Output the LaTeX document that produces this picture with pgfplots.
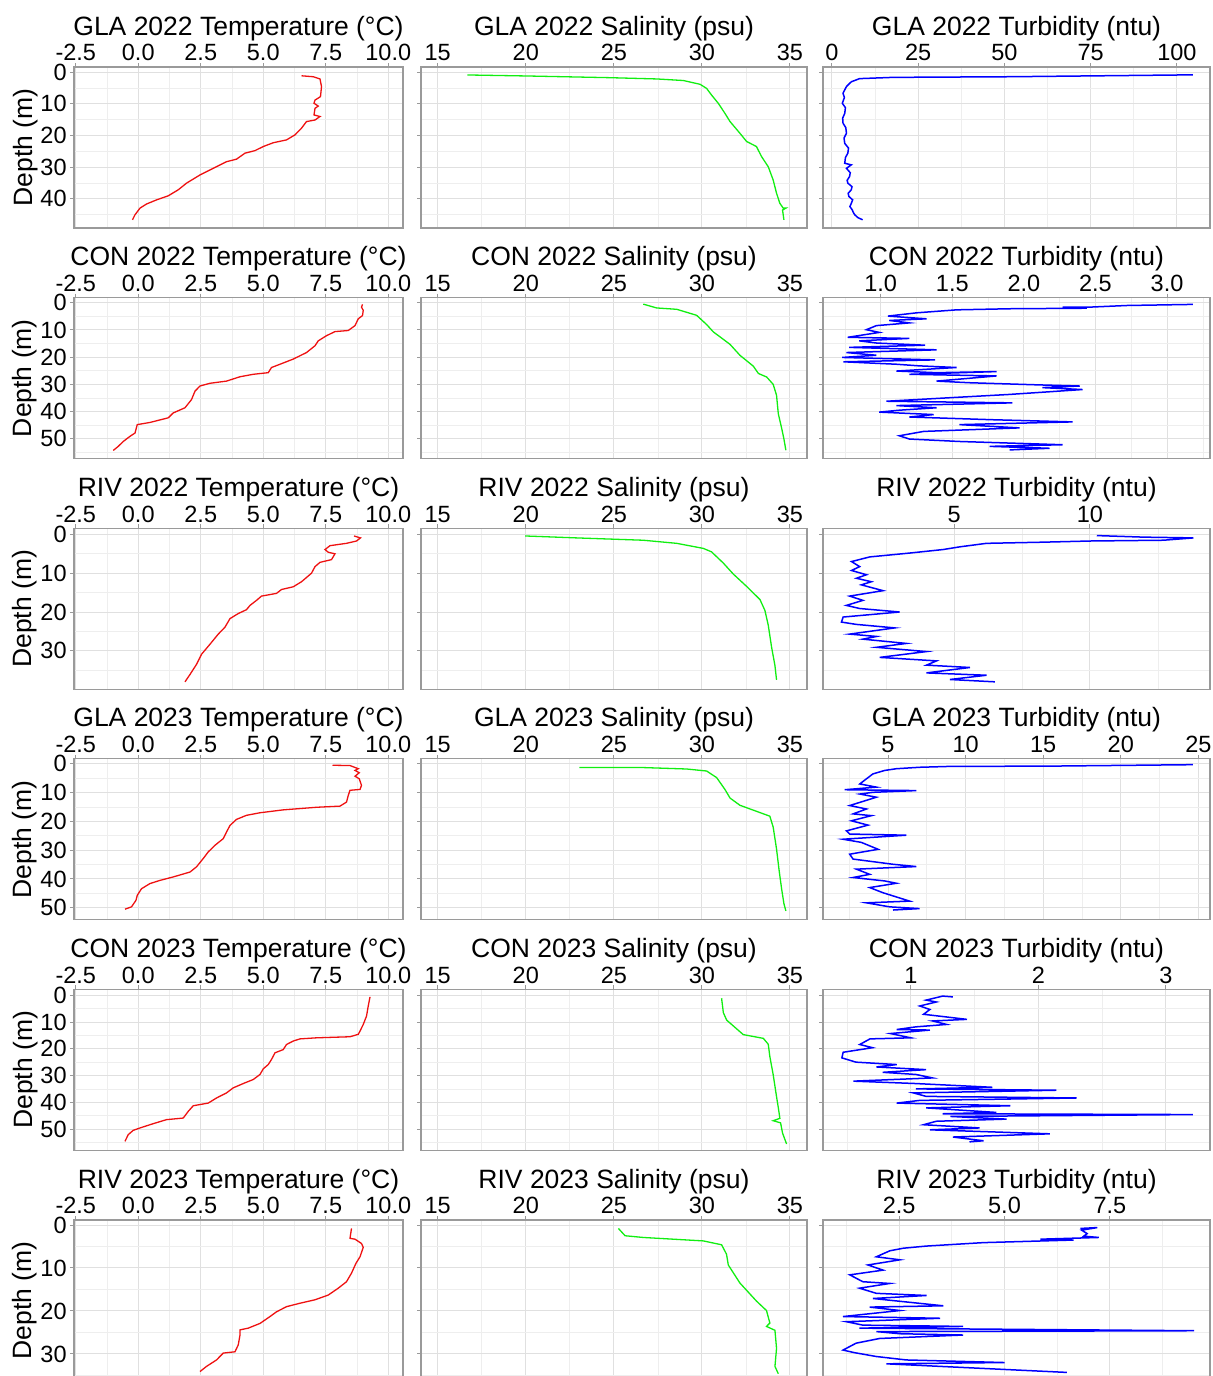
\documentclass[border=0pt]{standalone}
\usepackage{pgfplots}
\pgfplotsset{compat=1.18}
\usepackage{fontspec}
\setmainfont{Liberation Sans}
\definecolor{bordercol}{HTML}{9A9A9A}
\definecolor{gridmaj}{HTML}{E0E0E0}
\definecolor{gridmin}{HTML}{EEEEEE}
\definecolor{tred}{HTML}{EE1111}
\definecolor{sgreen}{HTML}{11EE11}
\definecolor{ublue}{HTML}{0000FF}
\newcommand\tfont{\fontsize{13.25pt}{15pt}\selectfont}
\newcommand\kfont{\fontsize{11.75pt}{13pt}\selectfont}

\pgfplotsset{
  prof/.style={
    scale only axis, height=80.5pt, anchor=north west,
    y dir=reverse, grid=both,
    axis line style={draw=bordercol, line width=0.6pt},
    major grid style={draw=gridmaj, line width=0.5pt},
    minor grid style={draw=gridmin, line width=0.35pt},
    tick style={draw=bordercol, line width=0.5pt},
    tick align=outside, major tick length=2pt, minor tick length=0pt,
    xtick pos=right, xticklabel pos=right, ytick pos=left,
    tick label style={font=\kfont},
    xticklabel style={anchor=base, inner sep=0pt, yshift=1.1pt},
    yticklabel style={anchor=east, inner sep=0pt, xshift=-1.5pt},
    title style={at={(0.5,1)}, anchor=base, yshift=10pt, font=\tfont},
    every axis y label/.style={at={(rel axis cs:0,0.5)}, xshift=-21pt, rotate=90, anchor=base, font=\fontsize{13.25pt}{15pt}\selectfont},
  },
  tcol/.style={prof, width=164.5pt, xmin=-2.57, xmax=10.59,
    xtick={-2.5,0,2.5,5,7.5,10}, xticklabels={-2.5,0.0,2.5,5.0,7.5,10.0},
    minor xtick={-1.25,1.25,3.75,6.25,8.75}, ylabel={Depth (m)}},
  scol/.style={prof, width=193pt, xmin=14.05, xmax=35.97,
    xtick={15,20,25,30,35}, xticklabels={15,20,25,30,35},
    minor xtick={17.5,22.5,27.5,32.5}, yticklabels={}},
  ucol/.style={prof, width=193.5pt, yticklabels={}},
  r1/.style={ymin=-1.68, ymax=49.3, ytick={0,10,20,30,40}, yticklabels={0,10,20,30,40}, minor ytick={5,15,25,35,45}},
  r2/.style={ymin=-1.9, ymax=57.3, ytick={0,10,20,30,40,50}, yticklabels={0,10,20,30,40,50}, minor ytick={5,15,25,35,45,55}},
  r3/.style={ymin=-1.6, ymax=39.9, ytick={0,10,20,30}, yticklabels={0,10,20,30}, minor ytick={5,15,25,35}},
  r4/.style={ymin=-1.74, ymax=54.2, ytick={0,10,20,30,40,50}, yticklabels={0,10,20,30,40,50}, minor ytick={5,15,25,35,45}},
  r5/.style={ymin=-2.2, ymax=58.0, ytick={0,10,20,30,40,50}, yticklabels={0,10,20,30,40,50}, minor ytick={5,15,25,35,45,55}},
  r6/.style={ymin=-1.16, ymax=36.3, ytick={0,10,20,30}, yticklabels={0,10,20,30}, minor ytick={5,15,25,35}},
  tline/.style={draw=tred, line width=0.65pt, no markers},
  sline/.style={draw=sgreen, line width=0.65pt, no markers},
  uline/.style={draw=ublue, line width=0.75pt, no markers},
}

\begin{document}
\begin{tikzpicture}
\useasboundingbox (0,0) rectangle (606.5pt,-688pt);
\clip (0,0) rectangle (606.5pt,-688pt);

% ---------- GLA 2022 ----------
\begin{axis}[r1, tcol, at={(37pt,-33.5pt)}, title={GLA 2022 Temperature (°C)}]
\addplot[tline] coordinates {(6.53,1.1)(7.0,1.4)(7.27,2.1)(7.33,4.5)(7.29,7.7)(7.07,8.8)(7.03,9.8)(7.2,10.7)(7.07,11.4)(7.03,13.5)(7.27,14.0)(7.07,15.1)(6.73,15.6)(6.53,17.7)(6.27,19.8)(5.93,21.4)(5.4,22.3)(5.0,23.5)(4.67,24.8)(4.27,25.6)(3.93,27.5)(3.53,28.3)(3.0,30.4)(2.47,32.5)(1.93,35.1)(1.6,37.2)(1.2,39.1)(0.73,40.4)(0.33,41.7)(0.07,43.0)(-0.13,45.1)(-0.23,46.7)};
\end{axis}
\begin{axis}[r1, scol, at={(210.5pt,-33.5pt)}, title={GLA 2022 Salinity (psu)}]
\addplot[sline] coordinates {(16.68,0.84)(20.05,1.16)(24.78,1.7)(27.43,2.1)(28.95,2.6)(29.9,3.8)(30.27,5.1)(30.55,7.2)(30.93,9.8)(31.31,13.0)(31.6,15.6)(32.16,19.3)(32.54,21.9)(33.1,23.5)(33.39,26.7)(33.77,29.9)(34.05,34.1)(34.24,38.3)(34.43,41.5)(34.62,43.0)(34.77,43.0)(34.58,43.6)(34.66,46.7)};
\end{axis}
\begin{axis}[r1, ucol, at={(411.5pt,-33.5pt)}, title={GLA 2022 Turbidity (ntu)},
  xmin=-2.6, xmax=109.6, xtick={0,25,50,75,100}, xticklabels={0,25,50,75,100}, minor xtick={12.5,37.5,62.5,87.5}]
\addplot[uline] coordinates {(104.6,0.8)(51.6,1.4)(17.7,1.6)(8.0,2.0)(5.6,3.0)(4.2,4.5)(3.2,6.6)(3.6,8.0)(3.0,9.8)(3.9,11.2)(3.7,13.0)(3.1,14.5)(3.2,16.1)(4.0,17.5)(4.2,19.3)(3.5,20.8)(3.7,22.5)(4.8,24.0)(4.6,25.6)(3.9,27.0)(3.7,28.8)(5.6,29.3)(4.2,30.4)(5.3,31.8)(5.1,33.0)(4.4,34.2)(4.6,35.1)(5.8,36.2)(5.6,37.2)(4.7,38.3)(4.9,39.3)(6.0,40.4)(5.6,41.5)(5.2,42.5)(5.9,43.6)(6.2,44.4)(6.6,45.1)(7.5,46.0)(8.9,46.7)};
\end{axis}

% ---------- CON 2022 ----------
\begin{axis}[r2, tcol, at={(37pt,-148.8pt)}, title={CON 2022 Temperature (°C)}]
\addplot[tline] coordinates {(8.97,0.6)(8.93,1.6)(9.0,2.8)(8.97,4.7)(8.8,5.9)(8.67,8.4)(8.4,10.2)(7.87,10.6)(7.53,12.1)(7.2,14.0)(7.07,15.8)(6.73,18.3)(6.2,20.7)(5.67,22.6)(5.33,23.8)(5.2,25.7)(4.6,26.3)(4.07,27.2)(3.53,28.8)(2.87,29.6)(2.47,30.6)(2.27,32.5)(2.13,35.6)(1.87,38.6)(1.4,40.5)(1.2,42.3)(0.47,44.0)(-0.04,44.8)(-0.13,47.9)(-0.33,49.1)(-0.6,51.0)(-0.8,52.8)(-1.0,54.3)};
\end{axis}
\begin{axis}[r2, scol, at={(210.5pt,-148.8pt)}, title={CON 2022 Salinity (psu)}]
\addplot[sline] coordinates {(26.67,0.5)(27.43,1.9)(28.57,2.4)(29.7,4.6)(30.27,8.0)(30.65,10.7)(31.6,15.3)(32.16,19.3)(32.92,23.3)(33.21,26.0)(33.68,27.3)(34.05,30.0)(34.24,34.0)(34.34,40.8)(34.53,46.1)(34.66,50.1)(34.77,54.2)};
\end{axis}
\begin{axis}[r2, ucol, at={(411.5pt,-148.8pt)}, title={CON 2022 Turbidity (ntu)},
  xmin=0.597, xmax=3.30, xtick={1,1.5,2,2.5,3}, xticklabels={1.0,1.5,2.0,2.5,3.0}, minor xtick={0.75,1.25,1.75,2.25,2.75,3.25}]
\addplot[uline] coordinates {(3.18,0.6)(2.72,1.0)(2.46,1.6)(2.27,1.6)(2.44,2.0)(1.9,2.2)(1.53,2.6)(1.25,3.7)(1.05,4.9)(1.32,5.9)(1.06,6.5)(1.2,7.4)(0.97,8.4)(0.9,9.9)(0.99,10.9)(0.77,12.7)(1.2,13.1)(0.85,14.0)(0.97,14.8)(1.31,15.6)(0.78,16.4)(1.39,17.3)(0.76,18.3)(0.97,19.3)(0.73,20.1)(1.38,21.0)(0.74,21.7)(1.11,22.6)(1.27,23.2)(1.53,23.8)(1.11,25.1)(1.39,25.7)(1.81,25.3)(1.2,26.3)(1.81,26.9)(1.39,28.8)(1.62,29.4)(2.11,30.2)(2.39,30.6)(2.13,31.2)(2.41,31.9)(1.9,33.7)(1.04,36.2)(1.92,36.8)(1.11,37.8)(1.39,38.6)(1.13,39.5)(0.99,40.2)(1.37,41.1)(1.2,42.0)(1.78,43.0)(2.34,43.8)(1.55,44.8)(1.97,46.0)(1.3,47.3)(1.13,48.9)(1.2,50.1)(1.55,51.0)(2.27,52.2)(1.76,52.8)(2.18,53.5)(1.9,54.1)};
\end{axis}

% ---------- RIV 2022 ----------
\begin{axis}[r3, tcol, at={(37pt,-264.1pt)}, title={RIV 2022 Temperature (°C)}]
\addplot[tline] coordinates {(8.63,0.4)(8.89,0.9)(8.73,1.7)(8.33,2.3)(7.67,2.9)(7.47,3.9)(7.6,4.6)(7.87,5.0)(7.73,6.5)(7.27,7.2)(7.07,8.3)(6.93,10.0)(6.53,12.2)(6.2,13.5)(5.73,14.2)(5.53,15.2)(4.93,15.9)(4.73,17.0)(4.47,18.3)(4.33,19.4)(4.0,20.4)(3.67,21.7)(3.47,23.9)(3.2,25.7)(2.87,28.3)(2.53,30.9)(2.33,33.5)(2.07,36.1)(1.87,38.0)};
\end{axis}
\begin{axis}[r3, scol, at={(210.5pt,-264.1pt)}, title={RIV 2022 Salinity (psu)}]
\addplot[sline] coordinates {(19.96,0.4)(22.89,0.9)(26.67,1.5)(28.57,2.3)(30.08,3.6)(30.55,4.5)(31.22,7.4)(31.78,10.2)(32.54,13.4)(33.3,16.8)(33.58,19.6)(33.77,23.4)(33.96,29.1)(34.15,33.8)(34.24,37.5)};
\end{axis}
\begin{axis}[r3, ucol, at={(411.5pt,-264.1pt)}, title={RIV 2022 Turbidity (ntu)},
  xmin=0.17, xmax=14.42, xtick={5,10}, xticklabels={5,10}, minor xtick={2.5,7.5,12.5}]
\addplot[uline] coordinates {(10.25,0.3)(11.97,0.7)(13.81,0.9)(12.7,1.5)(10.0,1.7)(8.28,2.0)(6.19,2.3)(5.21,3.2)(4.59,3.9)(3.37,4.8)(1.89,5.8)(1.22,7.0)(1.52,8.3)(1.22,9.3)(1.77,10.4)(1.4,11.3)(1.95,12.2)(1.58,13.0)(2.38,14.5)(1.15,15.9)(1.64,17.0)(1.03,18.3)(1.52,19.1)(2.99,20.0)(0.91,21.3)(0.85,22.6)(1.4,23.2)(2.81,24.1)(1.15,25.7)(2.14,26.3)(1.64,27.0)(3.24,28.1)(2.14,29.1)(3.98,30.2)(2.26,31.7)(4.35,32.6)(3.98,33.7)(5.58,34.3)(3.98,35.7)(6.19,36.3)(4.84,37.4)(6.5,38.0)};
\end{axis}

% ---------- GLA 2023 ----------
\begin{axis}[r4, tcol, at={(37pt,-379.4pt)}, title={GLA 2023 Temperature (°C)}]
\addplot[tline] coordinates {(7.77,0.5)(8.47,0.6)(8.8,1.7)(8.67,2.3)(8.84,3.1)(8.67,4.3)(8.84,5.2)(8.93,7.5)(8.87,8.9)(8.47,9.2)(8.4,11.0)(8.33,13.3)(8.07,14.7)(7.13,15.1)(5.8,16.0)(4.87,17.0)(4.33,17.9)(3.93,19.3)(3.67,21.4)(3.53,23.7)(3.4,26.0)(3.07,28.3)(2.8,30.6)(2.6,32.9)(2.33,35.8)(2.07,37.6)(1.4,39.3)(0.87,40.5)(0.47,41.6)(0.13,43.4)(-0.04,45.7)(-0.09,47.4)(-0.27,49.7)(-0.53,50.5)};
\end{axis}
\begin{axis}[r4, scol, at={(210.5pt,-379.4pt)}, title={GLA 2023 Salinity (psu)}]
\addplot[sline] coordinates {(23.04,1.3)(26.67,1.3)(29.13,1.8)(30.27,2.5)(30.84,4.8)(31.31,8.9)(31.6,11.9)(32.16,14.4)(33.1,16.5)(33.86,18.2)(34.05,22.0)(34.24,29.6)(34.39,37.2)(34.53,43.5)(34.66,48.6)(34.77,51.1)};
\end{axis}
\begin{axis}[r4, ucol, at={(411.5pt,-379.4pt)}, title={GLA 2023 Turbidity (ntu)},
  xmin=0.81, xmax=25.75, xtick={5,10,15,20,25}, xticklabels={5,10,15,20,25}, minor xtick={2.5,7.5,12.5,17.5,22.5}]
\addplot[uline] coordinates {(24.64,0.3)(15.41,0.8)(8.97,0.9)(7.04,1.2)(5.54,1.7)(4.79,2.3)(4.03,3.5)(3.61,5.2)(3.18,7.0)(4.25,8.1)(2.21,9.0)(6.82,9.3)(4.03,9.9)(3.18,10.5)(4.25,11.6)(2.53,14.5)(3.61,15.7)(2.75,17.4)(3.93,18.0)(2.64,19.8)(3.71,21.3)(2.32,23.3)(2.53,24.4)(6.18,24.8)(2.1,26.2)(3.28,27.3)(4.36,29.7)(2.53,31.4)(2.75,33.1)(5.32,34.9)(6.82,35.7)(2.96,36.6)(3.82,38.4)(2.75,39.5)(4.79,40.7)(5.54,41.5)(3.82,43.0)(4.68,44.8)(6.39,47.7)(3.61,48.3)(5.11,49.7)(7.04,50.3)(5.32,50.8)};
\end{axis}

% ---------- CON 2023 ----------
\begin{axis}[r5, tcol, at={(37pt,-494.7pt)}, title={CON 2023 Temperature (°C)}]
\addplot[tline] coordinates {(9.27,0.6)(9.2,4.0)(9.13,7.8)(9.0,10.9)(8.87,13.4)(8.8,14.6)(8.47,15.5)(7.13,15.9)(6.47,16.3)(6.2,17.1)(5.93,18.4)(5.8,20.3)(5.47,21.5)(5.33,24.0)(5.2,25.9)(5.0,27.5)(4.87,29.6)(4.6,31.5)(4.2,33.0)(3.8,34.6)(3.53,36.5)(3.13,38.4)(2.8,40.3)(2.2,41.3)(2.0,43.4)(1.8,45.9)(1.13,46.5)(0.6,48.0)(0.07,49.6)(-0.2,50.5)(-0.4,52.1)(-0.53,54.6)};
\end{axis}
\begin{axis}[r5, scol, at={(210.5pt,-494.7pt)}, title={CON 2023 Salinity (psu)}]
\addplot[sline] coordinates {(31.12,1.1)(31.22,6.5)(31.41,9.3)(31.88,12.0)(32.35,14.7)(33.49,16.1)(33.77,18.3)(33.86,22.9)(34.05,29.7)(34.24,37.9)(34.34,42.0)(34.43,46.0)(34.05,46.9)(34.47,47.7)(34.58,51.5)(34.81,55.6)};
\end{axis}
\begin{axis}[r5, ucol, at={(411.5pt,-494.7pt)}, title={CON 2023 Turbidity (ntu)},
  xmin=0.312, xmax=3.345, xtick={1,2,3}, xticklabels={1,2,3}, minor xtick={0.5,1.5,2.5}]
\addplot[uline] coordinates {(1.33,0.6)(1.25,0.3)(1.12,1.8)(1.2,2.5)(1.07,4.0)(1.15,5.3)(1.1,7.1)(1.44,9.0)(1.17,9.6)(1.28,10.9)(1.04,11.8)(0.89,12.8)(1.15,13.0)(0.84,14.3)(1.0,15.9)(0.68,16.3)(0.6,18.4)(0.7,19.6)(0.47,21.3)(0.46,23.4)(0.57,25.0)(0.89,25.9)(0.73,26.8)(1.12,27.8)(0.78,28.8)(1.04,29.6)(1.17,30.9)(0.55,32.1)(1.04,33.0)(1.64,34.4)(1.04,35.0)(2.14,35.5)(1.02,36.5)(1.12,37.8)(2.3,38.4)(1.07,39.3)(0.89,40.3)(1.78,41.3)(1.12,42.1)(1.67,43.8)(1.25,44.3)(3.21,44.6)(1.31,45.3)(1.75,46.3)(1.2,47.1)(1.1,48.4)(1.54,49.6)(1.15,50.3)(2.09,51.8)(1.33,53.0)(1.57,54.4)(1.46,54.8)};
\end{axis}

% ---------- RIV 2023 ----------
\begin{axis}[r6, tcol, at={(37pt,-610pt)}, title={RIV 2023 Temperature (°C)}]
\addplot[tline] coordinates {(8.53,0.8)(8.47,3.1)(8.67,3.3)(8.93,4.3)(9.0,5.2)(8.87,7.4)(8.71,8.9)(8.53,11.2)(8.33,13.2)(8.0,14.7)(7.6,16.3)(7.07,17.4)(6.47,18.2)(5.93,19.0)(5.53,20.2)(5.27,21.3)(4.87,22.9)(4.4,24.0)(4.07,24.4)(4.07,25.6)(4.0,27.9)(3.87,29.5)(3.4,29.8)(3.13,31.4)(2.73,32.9)(2.47,34.1)};
\end{axis}
\begin{axis}[r6, scol, at={(210.5pt,-610pt)}, title={RIV 2023 Salinity (psu)}]
\addplot[sline] coordinates {(25.26,0.8)(25.64,2.5)(26.67,2.9)(30.08,3.7)(31.12,4.6)(31.4,6.8)(31.5,9.3)(32.16,13.5)(33.1,17.7)(33.67,19.9)(33.86,22.8)(33.67,23.6)(34.15,24.5)(34.24,28.7)(34.15,32.9)(34.34,34.6)};
\end{axis}
\begin{axis}[r6, ucol, at={(411.5pt,-610pt)}, title={RIV 2023 Turbidity (ntu)},
  xmin=0.695, xmax=9.875, xtick={2.5,5,7.5}, xticklabels={2.5,5.0,7.5}, minor xtick={1.25,3.75,6.25,8.75}]
\addplot[uline] coordinates {(6.8,0.8)(7.2,0.6)(6.83,1.2)(6.96,2.0)(6.88,2.6)(7.24,2.9)(5.85,3.3)(6.64,3.5)(4.5,4.1)(3.15,4.9)(2.6,5.4)(2.28,6.0)(1.96,7.4)(2.52,8.1)(1.76,9.3)(2.12,10.5)(1.33,11.6)(1.64,13.2)(2.28,13.6)(1.56,14.7)(1.96,15.9)(3.15,16.4)(1.88,17.1)(3.55,18.8)(1.8,19.1)(2.52,19.9)(1.17,21.3)(3.47,21.7)(1.25,22.5)(1.64,23.3)(4.02,23.6)(1.56,24.0)(9.5,24.6)(1.96,24.8)(2.52,25.3)(4.02,25.6)(2.04,26.4)(1.48,27.5)(1.17,29.1)(1.44,29.7)(1.96,30.6)(2.67,31.4)(5.0,32.0)(2.2,32.3)(6.48,34.3)};
\end{axis}
\end{tikzpicture}
\end{document}
